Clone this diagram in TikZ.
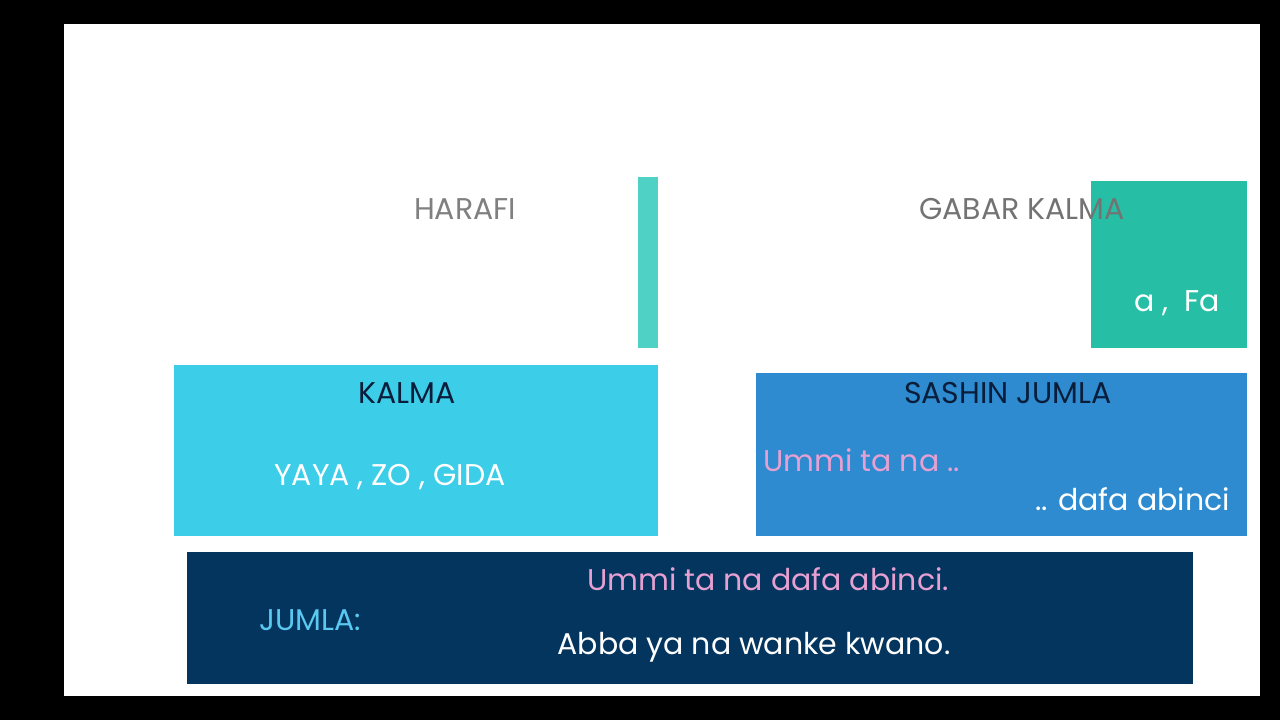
\documentclass[tikz,border=0pt]{standalone}
\usepackage{fontspec}
\setmainfont{Poppins}
\begin{document}
\begin{tikzpicture}[x=1pt,y=-1pt,
  lbl/.style={inner sep=0pt,font=\fontsize{30}{34}\selectfont},
  box/.style={draw=none}]
\useasboundingbox (0,0) rectangle (1280,720);
\fill[black] (0,0) rectangle (1280,720);
\fill[white] (64,24) rectangle (1260,696);
\fill[fill={rgb,255:red,79;green,209;blue,197}] (638,177) rectangle (658,348);
\fill[fill={rgb,255:red,38;green,191;blue,165}] (1091,181) rectangle (1247,348);
\fill[fill={rgb,255:red,60;green,205;blue,232}] (174,365) rectangle (658,536);
\fill[fill={rgb,255:red,46;green,139;blue,207}] (756,373) rectangle (1247,536);
\fill[fill={rgb,255:red,4;green,53;blue,95}] (187,552) rectangle (1193,684);
\node[lbl,text=gray] (harafi) at (465,209) {HARAFI};
\node[lbl,text=gray!90!black] (gabar) at (1022,209) {GABAR KALMA};
\node[lbl,text=white,anchor=east] (fa) at (1220,303) {a ,\ \ Fa};
\node[lbl,text={rgb,255:red,10;green,30;blue,60}] (kalma) at (407,393) {KALMA};
\node[lbl,text=white] (yaya) at (390,477) {YAYA , ZO , GIDA};
\node[lbl,text={rgb,255:red,10;green,30;blue,60}] (sashin) at (1008,393) {SASHIN JUMLA};
\node[lbl,text={rgb,255:red,230;green,160;blue,210},anchor=west] (u1) at (763,460) {Ummi ta na ..};
\node[lbl,text=white,anchor=east] (u2) at (1230,499) {.. dafa abinci};
\node[lbl,text={rgb,255:red,90;green,200;blue,240}] (jumla) at (310,620) {JUMLA:};
\node[lbl,text={rgb,255:red,230;green,160;blue,210}] (s1) at (768,579) {Ummi ta na dafa abinci.};
\node[lbl,text=white] (s2) at (754,647) {Abba ya na wanke kwano.};
\end{tikzpicture}
\end{document}
